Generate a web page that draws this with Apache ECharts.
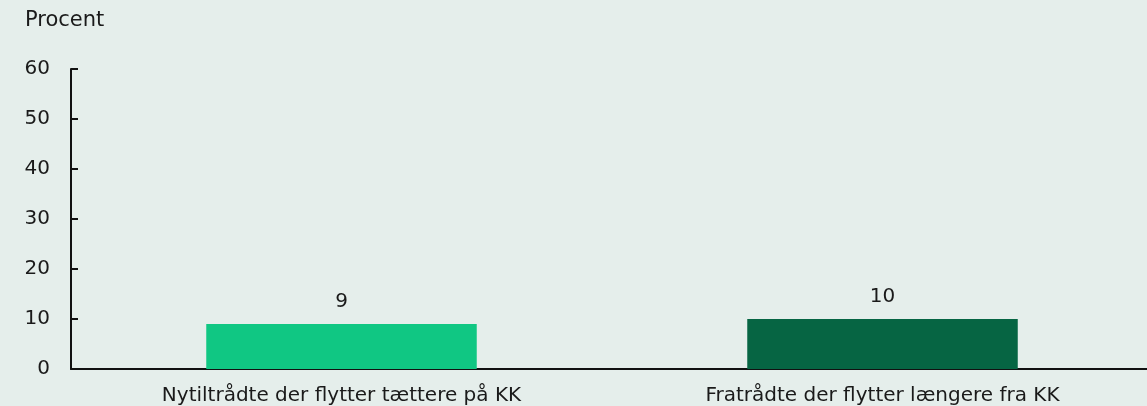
<!DOCTYPE html>
<html>
<head>
<meta charset="utf-8">
<script src="https://cdn.jsdelivr.net/npm/echarts@6/dist/echarts.min.js"></script>
<style>
  html, body { margin: 0; padding: 0; background: #e5eeeb; }
  #chart { width: 1147px; height: 406px; }
</style>
</head>
<body>
<div id="chart"></div>
<script>
// data
var categories = ['Nytiltrådte der flytter tættere på KK', 'Fratrådte der flytter længere fra KK'];
var values = [9, 10];
var barColors = ['#10c783', '#066543'];

var chart = echarts.init(document.getElementById('chart'));

var fontFamily = '"DejaVu Sans", sans-serif';

var option = {
  backgroundColor: '#e5eeeb',
  animation: false,
  grid: {
    left: 71,
    width: 1082,
    top: 69,
    bottom: 37,
    outerBoundsMode: 'none'
  },
  graphic: [{
    type: 'text',
    left: 25,
    top: 10,
    style: { text: 'Procent', fontSize: 21, fill: '#1a1a1a', fontFamily: fontFamily }
  }],
  xAxis: {
    type: 'category',
    data: categories,
    axisLine: { lineStyle: { color: '#111', width: 2 } },
    axisTick: { show: false },
    axisLabel: { color: '#1a1a1a', fontSize: 20, margin: 17, fontFamily: fontFamily }
  },
  yAxis: {
    type: 'value',
    min: 0,
    max: 60,
    interval: 10,
    splitLine: { show: false },
    axisLine: { show: true, lineStyle: { color: '#111', width: 2 } },
    axisTick: { show: true, inside: true, length: 7, lineStyle: { color: '#111', width: 2 } },
    axisLabel: { color: '#1a1a1a', fontSize: 20, margin: 21, fontFamily: fontFamily }
  },
  series: [{
    type: 'bar',
    barWidth: '50%',
    data: values.map(function (v, i) {
      return { value: v, itemStyle: { color: barColors[i] } };
    }),
    label: {
      show: true,
      position: 'top',
      distance: 12,
      color: '#1a1a1a',
      fontSize: 20,
      fontFamily: fontFamily
    }
  }]
};

chart.setOption(option);
</script>
</body>
</html>
